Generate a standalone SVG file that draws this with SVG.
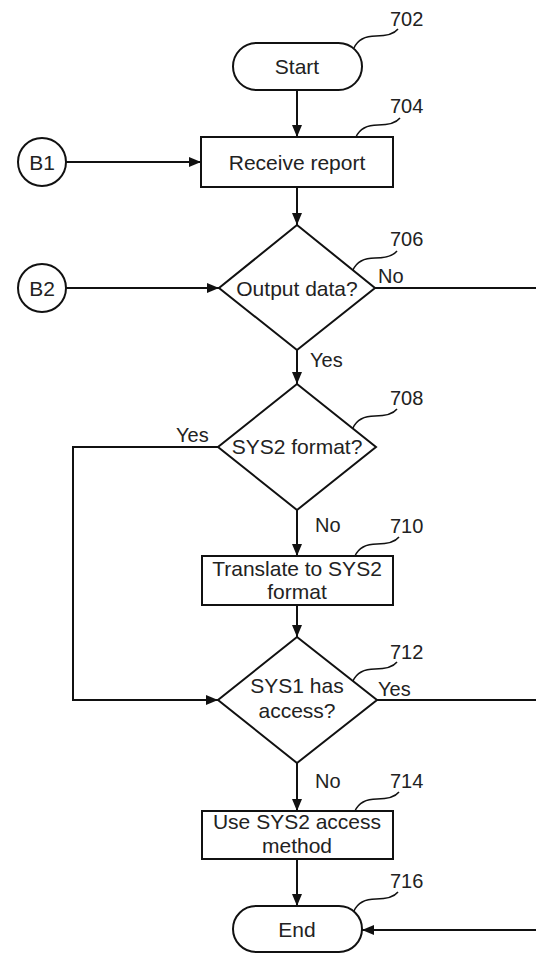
<svg xmlns="http://www.w3.org/2000/svg" width="536" height="953" viewBox="0 0 536 953">
<defs>
<marker id="arr" markerUnits="userSpaceOnUse" markerWidth="12" markerHeight="10" refX="12" refY="5" orient="auto">
<path d="M0,0 L12,5 L0,10 z" fill="#111"/>
</marker>
</defs>
<style>
.sh{fill:#fff;stroke:#111;stroke-width:2}
.ln{fill:none;stroke:#111;stroke-width:2}
.ld{fill:none;stroke:#111;stroke-width:1.5}
.t{font-family:"Liberation Sans",Arial,sans-serif;font-size:21px;fill:#222;text-anchor:middle}
.l{font-family:"Liberation Sans",Arial,sans-serif;font-size:20px;fill:#222}
</style>
<rect width="536" height="953" fill="#fff"/>
<g id="connectors">
<path class="ln" d="M297,90 V137" marker-end="url(#arr)"/>
<path class="ln" d="M66,162 H201" marker-end="url(#arr)"/>
<path class="ln" d="M297,187 V225" marker-end="url(#arr)"/>
<path class="ln" d="M66,288 H219" marker-end="url(#arr)"/>
<path class="ln" d="M375,288 H536"/>
<path class="ln" d="M297,350 V384" marker-end="url(#arr)"/>
<path class="ln" d="M218,447 H73 V700 H218" marker-end="url(#arr)"/>
<path class="ln" d="M297,510 V556" marker-end="url(#arr)"/>
<path class="ln" d="M297,605 V637" marker-end="url(#arr)"/>
<path class="ln" d="M377,700 H536"/>
<path class="ln" d="M297,763 V811" marker-end="url(#arr)"/>
<path class="ln" d="M297,859 V906" marker-end="url(#arr)"/>
<path class="ln" d="M536,930 H362" marker-end="url(#arr)"/>
<text class="l" x="378" y="283">No</text>
<text class="l" x="310" y="367">Yes</text>
<text class="l" x="176" y="442">Yes</text>
<text class="l" x="315" y="532">No</text>
<text class="l" x="378" y="696">Yes</text>
<text class="l" x="315" y="788">No</text>
</g>
<g id="n702">
<rect class="sh" x="233" y="43" width="129" height="47" rx="23.5"/>
<text class="t" x="297" y="74">Start</text>
<path class="ld" d="M354,48 c4,-9 12,-12 22,-12 c10,0 18,-2 22,-7"/>
<text class="l" x="390" y="26">702</text>
</g>
<g id="nB1">
<circle class="sh" cx="42" cy="162" r="24"/>
<text class="t" x="42" y="169.5">B1</text>
</g>
<g id="n704">
<rect class="sh" x="201" y="137" width="192" height="50"/>
<text class="t" x="297" y="169.5">Receive report</text>
<path class="ld" d="M356,137 c4,-9 12,-12 22,-12 c10,0 18,-2 22,-7"/>
<text class="l" x="390" y="113">704</text>
</g>
<g id="nB2">
<circle class="sh" cx="42" cy="288" r="24"/>
<text class="t" x="42" y="295.5">B2</text>
</g>
<g id="n706">
<path class="sh" d="M297,225 L375,288 L297,350 L219,288 z"/>
<text class="t" x="297" y="295.5">Output data?</text>
<path class="ld" d="M353,270 c4,-9 12,-12 22,-12 c10,0 18,-2 22,-7"/>
<text class="l" x="390" y="246">706</text>
</g>
<g id="n708">
<path class="sh" d="M297,384 L376,447 L297,510 L218,447 z"/>
<text class="t" x="297" y="454">SYS2 format?</text>
<path class="ld" d="M353,428 c4,-9 12,-12 22,-12 c10,0 18,-2 22,-7"/>
<text class="l" x="390" y="405">708</text>
</g>
<g id="n710">
<rect class="sh" x="202" y="556" width="191" height="49"/>
<text class="t" x="297" y="576">Translate to SYS2</text>
<text class="t" x="297" y="599">format</text>
<path class="ld" d="M355,556 c4,-9 12,-12 22,-12 c10,0 18,-2 22,-7"/>
<text class="l" x="390" y="533">710</text>
</g>
<g id="n712">
<path class="sh" d="M297,637 L377,700 L297,763 L218,700 z"/>
<text class="t" x="297" y="693">SYS1 has</text>
<text class="t" x="297" y="718">access?</text>
<path class="ld" d="M353,681 c4,-9 12,-12 22,-12 c10,0 18,-2 22,-7"/>
<text class="l" x="390" y="659">712</text>
</g>
<g id="n714">
<rect class="sh" x="202" y="811" width="191" height="48"/>
<text class="t" x="297" y="829">Use SYS2 access</text>
<text class="t" x="297" y="853">method</text>
<path class="ld" d="M355,811 c4,-9 12,-12 22,-12 c10,0 18,-2 22,-7"/>
<text class="l" x="390" y="788">714</text>
</g>
<g id="n716">
<rect class="sh" x="233" y="906" width="129" height="46" rx="23"/>
<text class="t" x="297" y="937">End</text>
<path class="ld" d="M354,911 c4,-9 12,-12 22,-12 c10,0 18,-2 22,-7"/>
<text class="l" x="390" y="888">716</text>
</g>
</svg>
